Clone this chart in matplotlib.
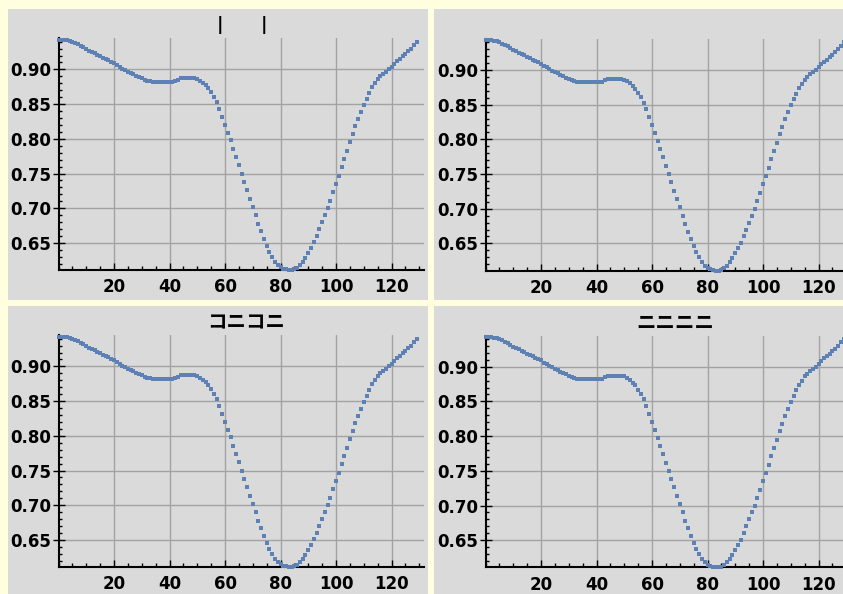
import matplotlib
matplotlib.use("Agg")
import matplotlib.pyplot as plt
from matplotlib.patches import Rectangle
from matplotlib.ticker import MultipleLocator

# sample index and measured value (same curve in all four panels)
step = list(range(130))
value = [
    0.943, 0.943, 0.943, 0.942, 0.941, 0.940, 0.938, 0.936, 0.934, 0.932,
    0.929, 0.927, 0.925, 0.923, 0.921, 0.919, 0.917, 0.915, 0.913, 0.911,
    0.909, 0.906, 0.904, 0.901, 0.899, 0.897, 0.895, 0.893, 0.891, 0.889,
    0.887, 0.885, 0.884, 0.883, 0.882, 0.882, 0.882, 0.882, 0.882, 0.882,
    0.882, 0.882, 0.883, 0.885, 0.887, 0.887, 0.887, 0.887, 0.887, 0.887,
    0.886, 0.884, 0.881, 0.877, 0.873, 0.867, 0.861, 0.853, 0.843, 0.832,
    0.820, 0.809, 0.798, 0.786, 0.774, 0.762, 0.750, 0.738, 0.726, 0.714,
    0.702, 0.690, 0.678, 0.667, 0.656, 0.646, 0.637, 0.630, 0.623, 0.618,
    0.615, 0.613, 0.612, 0.611, 0.611, 0.612, 0.614, 0.618, 0.623, 0.629,
    0.636, 0.643, 0.651, 0.660, 0.670, 0.680, 0.690, 0.700, 0.711, 0.723,
    0.735, 0.747, 0.759, 0.771, 0.783, 0.795, 0.807, 0.818, 0.829, 0.839,
    0.849, 0.858, 0.866, 0.874, 0.880, 0.886, 0.890, 0.894, 0.897, 0.900,
    0.904, 0.908, 0.912, 0.915, 0.919, 0.922, 0.926, 0.930, 0.935, 0.940,
]
x_ticks = [20, 40, 60, 80, 100, 120]
y_ticks = [0.65, 0.70, 0.75, 0.80, 0.85, 0.90]
titles = ["|      |", "", "コニコニ", "ニニニニ"]

W, H = 843, 594
BG = "#FFFFE0"
PANEL = "#DADADA"
GRID = "#A2A2A2"
BLUE = "#5E81B5"


def fbox(l, t, r, b):
    return [l / W, 1 - b / H, (r - l) / W, (b - t) / H]


fig = plt.figure(figsize=(W / 100, H / 100), dpi=100, facecolor=BG)

# (panel rect, plot-area left, plot-area bottom, title centre) in pixels
layout = [
    ((8, 9, 428, 300), 58.5, 270.0, (242, 25)),
    ((434, 9, 850, 300), 485.5, 270.5, (670, 25)),
    ((8, 306, 428, 600), 58.5, 567.0, (246, 323)),
    ((434, 306, 850, 600), 485.5, 567.3, (675, 323)),
]
ylo, yhi = 0.611, 0.945
xlo, xhi = 0, 131.7
pw, ph = 365.5, (yhi - ylo) * 694

for (panel, left, bottom, tpos), title in zip(layout, titles):
    l, t, r, b = panel
    fig.patches.append(Rectangle((l / W, 1 - b / H), (r - l) / W, (b - t) / H,
                                 transform=fig.transFigure, facecolor=PANEL,
                                 edgecolor="none", zorder=-5))
    ax = fig.add_axes(fbox(left, bottom - ph, left + pw, bottom))
    ax.set_facecolor("none")
    ax.set_xlim(xlo, xhi)
    ax.set_ylim(ylo, yhi)
    for s in ("top", "right"):
        ax.spines[s].set_visible(False)
    for s in ("left", "bottom"):
        ax.spines[s].set_linewidth(1.5)
        ax.spines[s].set_color("black")
    ax.set_xticks(x_ticks)
    ax.set_yticks(y_ticks)
    ax.set_yticklabels([f"{v:.2f}" for v in y_ticks])
    ax.xaxis.set_minor_locator(MultipleLocator(5))
    ax.yaxis.set_minor_locator(MultipleLocator(0.01))
    ax.tick_params(axis="x", which="major", direction="in", length=5, width=1,
                   pad=6, labelsize=12)
    ax.tick_params(axis="x", which="minor", direction="in", length=3, width=1)
    ax.tick_params(axis="y", which="major", direction="inout", length=8, width=1,
                   pad=1, labelsize=12)
    ax.tick_params(axis="y", which="minor", direction="in", length=2, width=1)
    for lab in ax.get_xticklabels() + ax.get_yticklabels():
        lab.set_fontweight("bold")
    ax.grid(True, which="major", color=GRID, linewidth=1)
    ax.set_axisbelow(True)
    ax.plot(step, value, linestyle="none", marker="s", markersize=3.0,
            color=BLUE, markeredgewidth=0, clip_on=False, zorder=3)
    if title:
        fam = ["DejaVu Sans"] if title.startswith("|") else ["Noto Sans CJK JP", "DejaVu Sans"]
        fig.text(tpos[0] / W, 1 - tpos[1] / H, title, ha="center", va="center",
                 fontsize=14 if fam[0] != "DejaVu Sans" else 13,
                 fontweight="bold", family=fam)

fig.savefig("out.png", dpi=100, facecolor=BG)
